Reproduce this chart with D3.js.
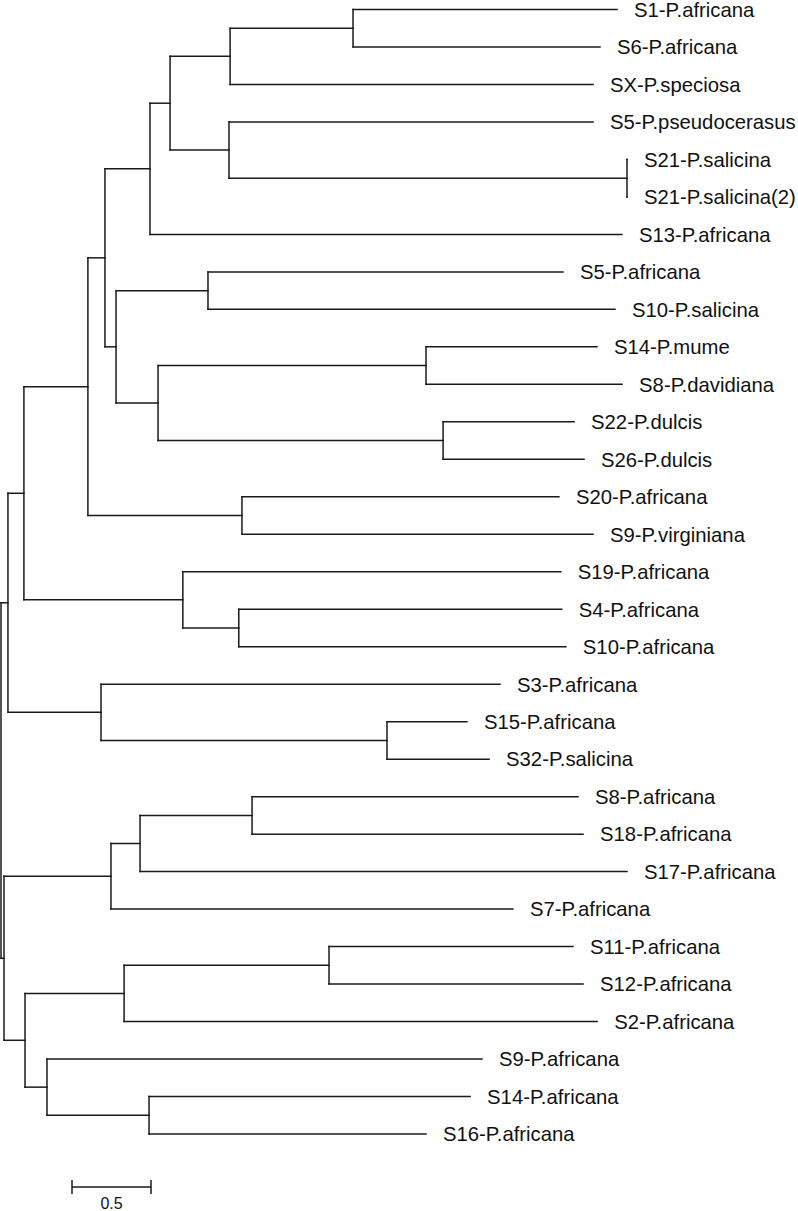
<!DOCTYPE html>
<html>
<head>
<meta charset="utf-8">
<script src="https://cdn.jsdelivr.net/npm/d3@7"></script>
<style>
  html, body { margin: 0; padding: 0; background: #fff; }
  svg { display: block; }
  text { font-family: "Liberation Sans", Arial, Helvetica, sans-serif; fill: #111; }
</style>
</head>
<body>
<svg id="chart" width="798" height="1211"></svg>
<script>
// ---- Tree data (node id, parent id, branch length) ----
const nodeIds = [
  "root", "A", "B", "A1", "A2", "A1a", "A1b", "n1", "n2", "n3", "n4", "n5",
  "S13-P.africana", "n6", "n7", "n8", "SX-P.speciosa", "S1-P.africana", "S6-P.africana",
  "S5-P.pseudocerasus", "n9", "S21-P.salicina", "S21-P.salicina(2)",
  "n10", "n11", "S5-P.africana", "S10-P.salicina", "n12", "n13",
  "S14-P.mume", "S8-P.davidiana", "S22-P.dulcis", "S26-P.dulcis",
  "S20-P.africana", "S9-P.virginiana", "S19-P.africana", "n14",
  "S4-P.africana", "S10-P.africana", "S3-P.africana", "n15",
  "S15-P.africana", "S32-P.salicina", "B1", "B2", "n16", "S7-P.africana",
  "n17", "S17-P.africana", "S8-P.africana", "S18-P.africana",
  "n18", "n19", "n20", "S2-P.africana", "S11-P.africana", "S12-P.africana",
  "S9-P.africana", "n21", "S14-P.africana", "S16-P.africana"
];
const parentIds = [
  null, "root", "root", "A", "A", "A1", "A1", "A1a", "A1a", "n1", "n1", "n3",
  "n3", "n5", "n5", "n6", "n6", "n8", "n8",
  "n7", "n7", "n9", "n9",
  "n4", "n4", "n10", "n10", "n11", "n11",
  "n12", "n12", "n13", "n13",
  "n2", "n2", "A1b", "A1b",
  "n14", "n14", "A2", "A2",
  "n15", "n15", "B", "B", "B1", "B1",
  "n16", "n16", "n17", "n17",
  "B2", "B2", "n18", "n18", "n20", "n20",
  "n19", "n19", "n21", "n21"
];
const branchLengths = [
  0, 0.044, 0.019, 0.101, 0.589, 0.405, 1.006, 0.108, 0.975, 0.285, 0.070, 0.127,
  2.987, 0.380, 0.373, 0.778, 2.297, 1.671, 1.563,
  2.304, 2.519, 0, 0,
  0.582, 0.266, 2.247, 2.576, 1.696, 1.804,
  1.082, 1.241, 0.829, 0.892,
  2.006, 2.222, 2.392, 0.354,
  2.044, 2.070, 2.525, 1.810,
  0.506, 0.646, 0.677, 0.133, 0.184, 2.544,
  0.709, 3.082, 2.063, 2.095,
  0.627, 0.139, 1.297, 2.994, 1.544, 1.608,
  2.753, 0.646, 2.032, 1.753
];
const scaleBarValue = 0.5;
const scaleBarLabel = "0.5";

// ---- Build hierarchy ----
const rows = nodeIds.map((id, i) => ({ id, parent: parentIds[i], len: branchLengths[i] }));
const root = d3.stratify().id(d => d.id).parentId(d => d.parent)(rows);

root.eachBefore(n => { n.dist = n.parent ? n.parent.dist + n.data.len : 0; });

const leaves = root.leaves();
const maxDist = d3.max(leaves, d => d.dist);

const pxPerUnit = 158;
const x = d3.scaleLinear().domain([0, maxDist]).range([1, 1 + pxPerUnit * maxDist]);
const y = d3.scalePoint().domain(leaves.map(d => d.id)).range([9.5, 1134]);

root.eachAfter(n => {
  if (n.children) {
    n.y = (n.children[0].y + n.children[n.children.length - 1].y) / 2;
  } else {
    n.y = y(n.id);
  }
});

const svg = d3.select("#chart");
const g = svg.append("g");
const stroke = "#1a1a1a";
const sw = 1.5;

// horizontal branches
g.selectAll("line.h")
  .data(root.descendants().filter(d => d.parent))
  .join("line")
  .attr("class", "h")
  .attr("x1", d => x(d.parent.dist))
  .attr("x2", d => x(d.dist))
  .attr("y1", d => d.y)
  .attr("y2", d => d.y)
  .attr("stroke", stroke)
  .attr("stroke-width", sw)
  .attr("stroke-linecap", "square");

// vertical connectors
g.selectAll("line.v")
  .data(root.descendants().filter(d => d.children))
  .join("line")
  .attr("class", "v")
  .attr("x1", d => x(d.dist))
  .attr("x2", d => x(d.dist))
  .attr("y1", d => d.children[0].y)
  .attr("y2", d => d.children[d.children.length - 1].y)
  .attr("stroke", stroke)
  .attr("stroke-width", sw)
  .attr("stroke-linecap", "square");

// labels
g.selectAll("text.leaf")
  .data(leaves)
  .join("text")
  .attr("class", "leaf")
  .attr("x", d => x(d.dist) + 17)
  .attr("y", d => d.y)
  .attr("dy", "0.36em")
  .attr("font-size", 20.3)
  .text(d => d.id);

// scale bar
const sbX0 = 72, sbY = 1187;
const sbLen = x(scaleBarValue) - x(0);
const sb = svg.append("g");
sb.append("line").attr("x1", sbX0).attr("x2", sbX0 + sbLen).attr("y1", sbY).attr("y2", sbY)
  .attr("stroke", stroke).attr("stroke-width", sw);
[sbX0, sbX0 + sbLen].forEach(xx => {
  sb.append("line").attr("x1", xx).attr("x2", xx).attr("y1", sbY - 7).attr("y2", sbY + 7)
    .attr("stroke", stroke).attr("stroke-width", sw);
});
sb.append("text").attr("x", sbX0 + sbLen / 2).attr("y", 1209)
  .attr("text-anchor", "middle").attr("font-size", 16).text(scaleBarLabel);
</script>
</body>
</html>
